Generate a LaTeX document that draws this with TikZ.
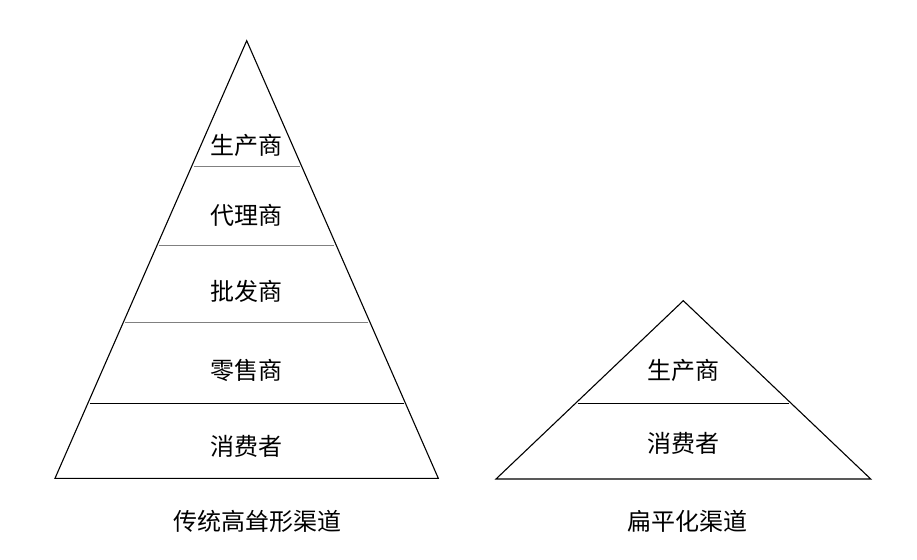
\documentclass[tikz,border=0pt]{standalone}
\usepackage{fontspec}
\setmainfont{Noto Sans CJK SC}
\usetikzlibrary{calc}
\begin{document}
\begin{tikzpicture}[x=1pt, y=-1pt, font=\fontsize{24}{28}\selectfont]
    \tikzset{
        layer/.style={gray, line width=0.6pt},
        tri/.style={line width=1.1pt, line join=miter},
        lbl/.style={inner sep=0pt},
    }
    \useasboundingbox (0,0) rectangle (917,559);

    % --- 1. Pirámide tradicional ---
    \coordinate (Ltop) at (246.7,40.7);
    \coordinate (Lbl) at (55,478.3);
    \coordinate (Lbr) at (438.3,478.3);
    \draw[tri] (Ltop) -- (Lbl) -- (Lbr) -- cycle;

    \foreach \f/\c in {0.2866/gray, 0.467/gray, 0.644/gray, 0.829/black}
        \draw[layer, draw=\c, shorten <=2pt, shorten >=2pt] ($(Ltop)!\f!(Lbl)$) -- ($(Ltop)!\f!(Lbr)$);

    \node[lbl] (Lprod) at (246.7,145) {生产商};
    \node[lbl] (Lagen) at (246.7,215) {代理商};
    \node[lbl] (Lmayo) at (246.7,291.7) {批发商};
    \node[lbl] (Lmino) at (246.7,370) {零售商};
    \node[lbl] (Lcons) at (246.7,446.7) {消费者};
    \node[lbl] (Ltit) at (257.5,521.7) {传统高耸形渠道};

    % --- 2. Canal plano ---
    \coordinate (Rtop) at (683.3,300.7);
    \coordinate (Rbl) at (496,479);
    \coordinate (Rbr) at (870.7,479);
    \draw[tri] (Rtop) -- (Rbl) -- (Rbr) -- cycle;
    \draw[layer, draw=black, shorten <=2pt, shorten >=2pt] ($(Rtop)!0.575!(Rbl)$) -- ($(Rtop)!0.575!(Rbr)$);

    \node[lbl] (Rprod) at (683.3,370) {生产商};
    \node[lbl] (Rcons) at (683.3,443) {消费者};
    \node[lbl] (Rtit) at (687.5,521.7) {扁平化渠道};
\end{tikzpicture}
\end{document}
